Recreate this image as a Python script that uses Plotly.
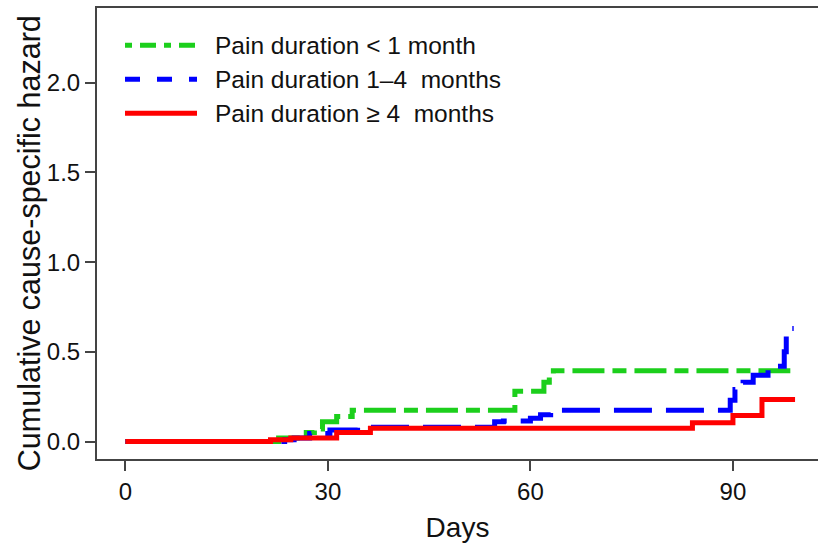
import plotly.graph_objects as go

# ---- data ----
series_names = ["Pain duration < 1 month", "Pain duration 1\u20134  months", "Pain duration \u2265 4  months"]

green_days = [0, 22.7, 26.8, 28.0, 29.2, 31.3, 33.6, 57.7, 62.0, 62.8, 63.4, 98.5]
green_vals = [0, 0.02, 0.05, 0.07, 0.11, 0.14, 0.175, 0.28, 0.33, 0.37, 0.395, 0.395]

blue_days = [0, 23.6, 25.0, 27.3, 30.3, 34.4, 54.7, 56.0, 60.0, 61.5, 63.0, 89.6, 90.3, 91.5, 93.0, 95.2, 97.6, 97.9, 99.0]
blue_vals = [0, 0.01, 0.02, 0.045, 0.065, 0.08, 0.11, 0.115, 0.13, 0.15, 0.175, 0.23, 0.29, 0.33, 0.37, 0.42, 0.50, 0.63, 0.63]

red_days = [0, 21.5, 24.5, 31.3, 36.3, 84.0, 90.0, 94.3, 99.2]
red_vals = [0, 0.01, 0.02, 0.05, 0.075, 0.105, 0.145, 0.235, 0.235]

x_ticks = [0, 30, 60, 90]
y_ticks = [0.0, 0.5, 1.0, 1.5, 2.0]
y_tick_labels = ["0.0", "0.5", "1.0", "1.5", "2.0"]

x_title = "Days"
y_title = "Cumulative cause-specific hazard"

colors = ["#1ccf1c", "#0000ff", "#ff0000"]
plot_dashes = ["14px,8px,32px,8px", "38px,14px", "solid"]
legend_dashes = ["7px,8px,16px,8px", "15px,17px", "solid"]

FONT = "Liberation Sans, Arial, sans-serif"

fig = go.Figure()
for name, xs, ys, col, dsh in zip(series_names,
                                  [green_days, blue_days, red_days],
                                  [green_vals, blue_vals, red_vals],
                                  colors, plot_dashes):
    fig.add_trace(go.Scatter(x=xs, y=ys, mode="lines", name=name,
                             line=dict(color=col, width=5, dash=dsh, shape="hv"),
                             showlegend=False))

# plot area in pixels
L, R, T, B = 97, 818, 7.6, 459
W, H = 818, 545


def px(xp):
    return (xp - L) / (R - L)


def py(yp):
    return (B - yp) / (B - T)


shapes = []
annotations = []
row_y = [45, 79, 113]
for name, col, dsh, ry in zip(series_names, colors, legend_dashes, row_y):
    shapes.append(dict(type="line", xref="paper", yref="paper",
                       x0=px(125), x1=px(197), y0=py(ry), y1=py(ry),
                       line=dict(color=col, width=5, dash=dsh)))
    annotations.append(dict(xref="paper", yref="paper", x=px(213), y=py(ry),
                            text=name, showarrow=False, xanchor="left", yanchor="middle",
                            font=dict(family=FONT, size=24.5, color="#111")))

# y-axis title as rotated annotation (placed like the reference)
annotations.append(dict(xref="paper", yref="paper", x=px(29), y=py(243),
                        text=y_title, textangle=-90, showarrow=False,
                        xanchor="center", yanchor="middle",
                        font=dict(family=FONT, size=30.5, color="#111")))

fig.update_layout(
    width=W, height=H,
    margin=dict(l=L, r=W - R, t=T, b=H - B, autoexpand=False),
    paper_bgcolor="white", plot_bgcolor="white",
    font=dict(family=FONT, color="#111"),
    shapes=shapes, annotations=annotations,
)
fig.update_xaxes(
    range=[-4.2, 102.6], tickvals=x_ticks, ticks="outside", ticklen=10, tickwidth=2,
    tickcolor="#444", showline=True, linecolor="#444", linewidth=2, mirror=True,
    showgrid=False, zeroline=False, automargin=False,
    tickfont=dict(size=24, family=FONT, color="#111"),
    title=dict(text=x_title, font=dict(size=28, family=FONT, color="#111"), standoff=14),
)
fig.update_yaxes(
    range=[-0.097, 2.416], tickvals=y_ticks, ticktext=y_tick_labels, ticks="outside",
    ticklen=10, tickwidth=2, tickcolor="#444", showline=True, linecolor="#444", linewidth=2,
    showgrid=False, zeroline=False, automargin=False,
    tickfont=dict(size=24, family=FONT, color="#111"),
)

fig.write_html(
    "out.html",
    config={"displayModeBar": False},
    post_script="document.body.style.margin='0';document.body.style.overflow='hidden';",
)
